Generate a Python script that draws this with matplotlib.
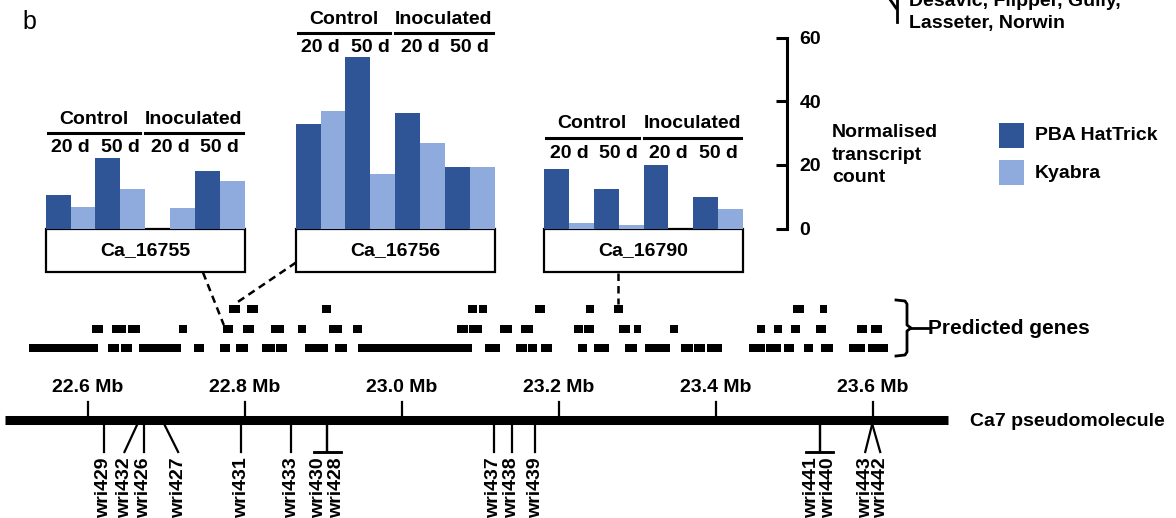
import numpy as np
import matplotlib
matplotlib.use("Agg")
import matplotlib.pyplot as plt
from matplotlib.patches import Rectangle

plt.rcParams['font.family'] = ['Liberation Sans', 'DejaVu Sans']
plt.rcParams['font.weight'] = 'bold'

# ---- data -------------------------------------------------------------
# expression panels (normalised transcript count), order: Control 20d, Control 50d, Inoc 20d, Inoc 50d
expr_genes = ['Ca_16755', 'Ca_16756', 'Ca_16790']
hattrick = [
    [10.5, 22.1, 0.0, 18.1],
    [32.8, 53.8, 36.3, 19.2],
    [18.8, 12.5, 20.1, 10.0],
]
kyabra = [
    [6.8, 12.4, 6.4, 15.0],
    [36.8, 17.0, 26.8, 19.4],
    [1.8, 0.95, 0.0, 6.0],
]
conditions = ['Control', 'Inoculated']
timepoints = ['20 d', '50 d']
count_ticks = [0, 20, 40, 60]
cultivars = ['PBA HatTrick', 'Kyabra']

# predicted genes (Mb start, end) in three stacked rows
genes_top = [(22.780, 22.794), (22.803, 22.817), (22.898, 22.909), (23.084, 23.095),
             (23.098, 23.108), (23.169, 23.182), (23.234, 23.244), (23.270, 23.281),
             (23.498, 23.512), (23.532, 23.541)]
genes_mid = [(22.605, 22.619), (22.631, 22.649), (22.651, 22.666), (22.716, 22.726),
             (22.772, 22.785), (22.798, 22.811), (22.833, 22.850), (22.868, 22.878),
             (22.907, 22.923), (22.938, 22.949), (23.070, 23.084), (23.085, 23.102),
             (23.125, 23.140), (23.152, 23.167), (23.219, 23.231), (23.232, 23.244),
             (23.276, 23.290), (23.295, 23.304), (23.341, 23.352), (23.452, 23.462),
             (23.474, 23.484), (23.496, 23.507), (23.528, 23.540), (23.579, 23.592),
             (23.597, 23.612)]
genes_bot = [(22.525, 22.613), (22.626, 22.639), (22.642, 22.656), (22.665, 22.718),
             (22.735, 22.748), (22.768, 22.781), (22.789, 22.804), (22.822, 22.838),
             (22.840, 22.854), (22.876, 22.906), (22.915, 22.930), (22.944, 23.089),
             (23.106, 23.125), (23.145, 23.159), (23.161, 23.172), (23.177, 23.191),
             (23.224, 23.236), (23.245, 23.264), (23.284, 23.299), (23.310, 23.327),
             (23.328, 23.341), (23.355, 23.371), (23.372, 23.386), (23.389, 23.408),
             (23.442, 23.462), (23.464, 23.483), (23.486, 23.499), (23.512, 23.523),
             (23.534, 23.549), (23.569, 23.590), (23.594, 23.619)]

# chromosome and SSR markers
chrom_name = 'Ca7 pseudomolecule'
chrom_span = (22.494, 23.696)
mb_ticks = [22.6, 22.8, 23.0, 23.2, 23.4, 23.6]
marker_names = ['wri429', 'wri432', 'wri426', 'wri427', 'wri431', 'wri433', 'wri430', 'wri428',
                'wri437', 'wri438', 'wri439', 'wri441', 'wri440', 'wri443', 'wri442']
marker_pos = [22.620, 22.663, 22.671, 22.697, 22.795, 22.859, 22.905, 22.905,
              23.117, 23.140, 23.170, 23.532, 23.532, 23.599, 23.599]

# ---- layout (pixels) --------------------------------------------------
W, H = 1176, 518
PX_PER_MB = 785
MB_LEFT = 22.6 - 88 / PX_PER_MB
BASE = 228.5          # bar baseline
PX_PER_UNIT = 3.18    # pixels per transcript count
CW = 199              # panel width
panel_left = [45.7, 295.7, 544]
panel_head = [119, 19, 124]
dark, light = '#2F5597', '#8FAADC'
FS = 14

fan = {'wri432': -13, 'wri427': 14, 'wri443': -7, 'wri442': 8}
tpair = {'wri430': -9, 'wri428': 9, 'wri441': -8, 'wri440': 9}
CHR_Y = 420

fig = plt.figure(figsize=(W / 100, H / 100), dpi=100)

ax = fig.add_axes([0, 0, 1, 1])
ax.set_xlim(0, W)
ax.set_ylim(H, 0)
ax.axis('off')

axc = fig.add_axes([0, 0, 1, 1])
axc.set_xlim(MB_LEFT, MB_LEFT + W / PX_PER_MB)
axc.set_ylim(H, 0)
axc.axis('off')
axc.patch.set_alpha(0)


def px2mb(x):
    return MB_LEFT + x / PX_PER_MB


ax.text(22, 22, 'b', fontsize=18, fontweight='normal', ha='left', va='center')

# top right fragment (cut by the figure edge, as in the source)
ax.plot([897, 897], [-2, 22], color='black', lw=2)
ax.plot([889, 896], [-2, 8], color='black', lw=2)
ax.text(909, 6, 'Desavic, Flipper, Gully,', fontsize=FS, ha='left', va='baseline')
ax.text(909, 28, 'Lasseter, Norwin', fontsize=FS, ha='left', va='baseline')

# ---- expression panels ------------------------------------------------
for k, name in enumerate(expr_genes):
    L = panel_left[k]
    hy = panel_head[k]
    s = CW / 8
    axb = fig.add_axes([L / W, 1 - BASE / H, CW / W, BASE / H])
    axb.set_xlim(0, 8)
    axb.set_ylim(0, BASE / PX_PER_UNIT)
    axb.axis('off')
    axb.patch.set_alpha(0)
    idx = np.arange(4) * 2
    axb.bar(idx, hattrick[k], width=1, align='edge', color=dark, edgecolor='none')
    axb.bar(idx + 1, kyabra[k], width=1, align='edge', color=light, edgecolor='none')

    ax.text(L + 2 * s - 2, hy, conditions[0], fontsize=FS, ha='center', va='center')
    ax.text(L + 6 * s - 1, hy, conditions[1], fontsize=FS, ha='center', va='center')
    ax.plot([L + 2, L + 4 * s - 5], [hy + 14, hy + 14], color='black', lw=2.2)
    ax.plot([L + 4 * s, L + 8 * s - 2], [hy + 14, hy + 14], color='black', lw=2.2)
    for j in range(4):
        ax.text(L + s * (1 + 2 * j), hy + 29, timepoints[j % 2], fontsize=FS,
                ha='center', va='center')

    ax.add_patch(Rectangle((L, BASE), CW, 43, facecolor='white', edgecolor='black', lw=1.6))
    ax.text(L + CW / 2, BASE + 22, name, fontsize=FS, ha='center', va='center')

# shared count axis
axy = fig.add_axes([(787 - 10) / W, 1 - BASE / H, 10 / W, BASE / H])
axy.set_ylim(0, BASE / PX_PER_UNIT)
axy.patch.set_alpha(0)
for sp in ['left', 'top', 'bottom']:
    axy.spines[sp].set_visible(False)
axy.spines['right'].set_linewidth(2.2)
axy.spines['right'].set_bounds(0, 60)
axy.set_xticks([])
axy.yaxis.tick_right()
axy.set_yticks(count_ticks)
axy.tick_params(axis='y', direction='in', length=8, width=2.2, labelsize=FS, pad=9)
for t in axy.get_yticklabels():
    t.set_fontweight('bold')

ax.text(832, 155, 'Normalised\ntranscript\ncount', fontsize=FS, ha='left', va='center',
        linespacing=1.45)

for i, (lab, col) in enumerate(zip(cultivars, [dark, light])):
    y0 = 123 + 37 * i
    ax.add_patch(Rectangle((999, y0), 25, 25, facecolor=col, edgecolor='none'))
    ax.text(1035, y0 + 13, lab, fontsize=FS, ha='left', va='center')

# ---- predicted genes --------------------------------------------------
for y, row in zip([309, 329, 348], [genes_top, genes_mid, genes_bot]):
    axc.broken_barh([(a, b - a) for a, b in row], (y - 4, 8), facecolors='black')

bx = [896, 905, 907, 907, 911, 907, 907, 905, 896]
by = [300, 301, 304, 325, 328, 331, 352, 355, 356]
ax.plot(bx, by, color='black', lw=2)
ax.plot([911, 928], [328, 328], color='black', lw=2)
ax.text(928, 328, 'Predicted genes', fontsize=15, ha='left', va='center')

# connectors from expression panels to genes
g1 = genes_mid[4]
g2 = genes_top[0]
g3 = genes_top[7]
axc.plot([px2mb(203), g1[0] + 0.001], [BASE + 44, 325], color='black', lw=1.8, ls=(0, (3, 2)))
axc.plot([px2mb(296), (g2[0] + g2[1]) / 2], [BASE + 34, 304], color='black', lw=1.8, ls=(0, (3, 2)))
axc.plot([(g3[0] + g3[1]) / 2] * 2, [BASE + 44, 304], color='black', lw=1.8, ls=(0, (3, 2)))

# ---- chromosome -------------------------------------------------------
axc.plot(list(chrom_span), [CHR_Y, CHR_Y], color='black', lw=6.5, solid_capstyle='butt')
for t in mb_ticks:
    axc.plot([t, t], [CHR_Y - 18, CHR_Y], color='black', lw=1.6)
    axc.text(t, CHR_Y - 32, f'{t:.1f} Mb', fontsize=FS, ha='center', va='center')
axc.text(px2mb(970), CHR_Y + 1, chrom_name, fontsize=FS, ha='left', va='center')

y_top, y_bot = CHR_Y + 4, 452
for name, pos in zip(marker_names, marker_pos):
    if name in fan:
        lx = pos + fan[name] / PX_PER_MB
        axc.plot([pos, lx], [y_top, y_bot], color='black', lw=1.6)
    elif name in tpair:
        lx = pos + tpair[name] / PX_PER_MB
        axc.plot([pos, pos], [y_top, y_bot], color='black', lw=1.6)
        axc.plot([pos - 13.5 / PX_PER_MB, pos + 13.5 / PX_PER_MB], [y_bot, y_bot],
                 color='black', lw=1.8)
    else:
        lx = pos
        axc.plot([pos, pos], [y_top, y_bot], color='black', lw=1.6)
    axc.text(lx, y_bot + 5, name, fontsize=14, rotation=90, ha='center', va='top')

plt.savefig('out.png', dpi=100)
plt.close()
